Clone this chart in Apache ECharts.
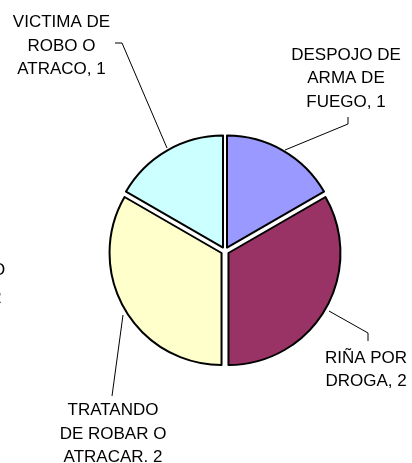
<!DOCTYPE html>
<html>
<head>
<meta charset="utf-8">
<script src="https://cdn.jsdelivr.net/npm/echarts@6/dist/echarts.min.js"></script>
<style>
html,body{margin:0;padding:0;background:#fff;}
#chart{width:412px;height:463px;}
</style>
</head>
<body>
<div id="chart"></div>
<script>
var categories = ['DESPOJO DE\nARMA DE\nFUEGO', 'RIÑA POR\nDROGA', 'TRATANDO\nDE ROBAR O\nATRACAR.', 'VICTIMA DE\nROBO O\nATRACO'];
var values = [1, 2, 2, 1];
var separators = [', ', ', ', ' ', ', '];
var colors = ['#9999FF', '#993366', '#FFFFCC', '#CCFFFF'];

// layout settings
var baseCenter = [225, 251];
var pieRadius = 112;
var explode = 4;
var labelPos = [
  {x: 346, y: 78.5, line: [[285,150],[348,124],[348,117]]},
  {x: 366, y: 370, line: [[329,311],[368,333],[368,341]]},
  {x: 113, y: 434, line: [[123,315],[112,396]]},
  {x: 61.5, y: 46, line: [[167,148],[122,43],[115,43]]}
];

var total = values.reduce(function (a, b) { return a + b; }, 0);
var cum = 0;
var series = values.map(function (v, i) {
  var midFrac = (cum + v / 2) / total;
  cum += v;
  var ang = (90 - 360 * midFrac) * Math.PI / 180;
  var c = [baseCenter[0] + explode * Math.cos(ang), baseCenter[1] - explode * Math.sin(ang)];
  var data = categories.map(function (name, j) {
    if (j === i) {
      return {
        name: name,
        value: values[j],
        itemStyle: {color: colors[j], borderColor: '#000', borderWidth: 2},
        label: {show: true, formatter: name + separators[j] + values[j]},
        labelLine: {show: true}
      };
    }
    return {
      name: name,
      value: values[j],
      itemStyle: {color: 'rgba(0,0,0,0)', borderWidth: 0},
      label: {show: false},
      labelLine: {show: false}
    };
  });
  return {
    type: 'pie',
    center: c,
    radius: pieRadius,
    startAngle: 90,
    clockwise: true,
    silent: true,
    emphasis: {disabled: true},
    label: {
      color: '#000',
      fontFamily: '"Liberation Sans", Arial, sans-serif',
      fontSize: 17,
      lineHeight: 23.5,
      align: 'center',
      overflow: 'none'
    },
    labelLine: {
      lineStyle: {color: '#000', width: 1}
    },
    labelLayout: function (params) {
      var p = labelPos[params.dataIndex];
      return {
        x: p.x,
        y: p.y,
        align: 'center',
        verticalAlign: 'middle',
        labelLinePoints: p.line
      };
    },
    data: data
  };
});

var chart = echarts.init(document.getElementById('chart'));
chart.setOption({
  backgroundColor: '#ffffff',
  animation: false,
  graphic: [{
    type: 'text',
    left: -8,
    top: 256,
    style: {
      text: 'O\n2',
      font: '17px "Liberation Sans", Arial, sans-serif',
      lineHeight: 28,
      fill: '#000'
    }
  }],
  series: series
});
</script>
</body>
</html>
